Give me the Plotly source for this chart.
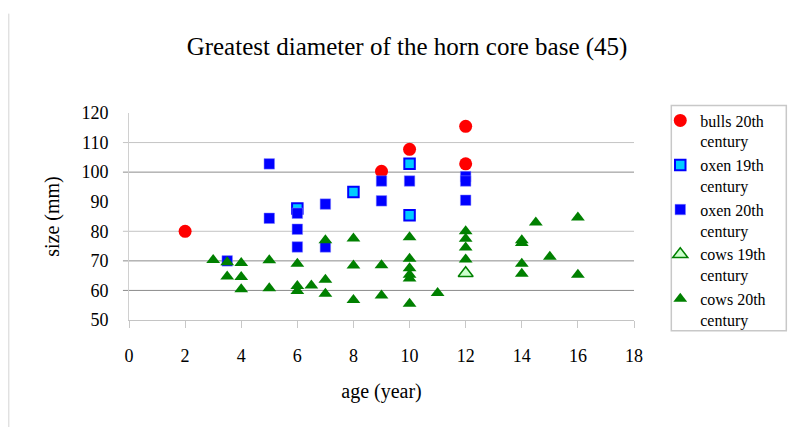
import plotly.graph_objects as go

# ---- data ----
bulls_age = [2, 9, 10, 12, 12]
bulls_size = [80.0, 100.3, 107.7, 115.5, 102.8]

oxen19_age = [6, 8, 10, 10]
oxen19_size = [87.7, 93.3, 102.8, 85.4]

oxen20_age = [3.5, 5, 5, 6, 6, 6, 7, 7, 9, 9, 10, 12, 12, 12]
oxen20_size = [70.0, 102.8, 84.4, 86.1, 80.7, 74.7, 89.2, 74.7, 97.0, 90.3, 97.0, 98.5, 97.0, 90.5]

cows19_age = [12]
cows19_size = [65.8]

cows20_age = [3, 3.5, 3.5, 4, 4, 4, 5, 5, 6, 6, 6, 6.5, 7, 7, 7, 8, 8, 8, 9, 9,
              10, 10, 10, 10, 10, 10, 11, 12, 12, 12, 12, 14, 14, 14, 14, 14.5, 15, 16, 16]
cows20_size = [70.3, 69.5, 64.7, 69.3, 64.5, 60.4, 70.2, 60.7, 69.0, 61.5, 59.8, 61.7,
               77.0, 63.6, 58.9, 77.6, 68.4, 56.8, 68.5, 58.3,
               78.0, 70.7, 67.5, 65.3, 64.0, 55.5, 59.1, 80.0, 77.5, 74.5, 70.5,
               77.0, 76.0, 69.0, 65.6, 83.0, 71.4, 84.7, 65.3]

series_names = ["bulls 20th<br>century", "oxen 19th<br>century", "oxen 20th<br>century",
                "cows 19th<br>century", "cows 20th<br>century"]

grid_levels = [60, 70, 80, 100, 110]
grid_colors = ["#8c8c8c", "#8c8c8c", "#c4c4c4", "#8c8c8c", "#c4c4c4"]

x_ticks = list(range(0, 19, 2))
y_ticks = list(range(50, 121, 10))

FONT = "Liberation Serif, Times New Roman, serif"

fig = go.Figure()

fig.add_trace(go.Scatter(x=bulls_age, y=bulls_size, mode="markers", name=series_names[0],
                         marker=dict(symbol="circle", size=13, color="#FF0000",
                                     line=dict(width=0))))
fig.add_trace(go.Scatter(x=oxen19_age, y=oxen19_size, mode="markers", name=series_names[1],
                         marker=dict(symbol="square", size=10.5, color="#00CCFF",
                                     line=dict(width=2, color="#0000FF"))))
fig.add_trace(go.Scatter(x=oxen20_age, y=oxen20_size, mode="markers", name=series_names[2],
                         marker=dict(symbol="square", size=10.5, color="#0000FF",
                                     line=dict(width=0.5, color="#8080FF"))))
fig.add_trace(go.Scatter(x=cows19_age, y=cows19_size, mode="markers", name=series_names[3],
                         marker=dict(symbol="triangle-up", size=13, color="#CCFFCC",
                                     line=dict(width=1.5, color="#008000"))))
fig.add_trace(go.Scatter(x=cows20_age, y=cows20_size, mode="markers", name=series_names[4],
                         marker=dict(symbol="triangle-up", size=12, color="#008000",
                                     line=dict(width=0))))

shapes = []
for lvl, col in zip(grid_levels, grid_colors):
    shapes.append(dict(type="line", xref="paper", yref="y", x0=-0.012, x1=1,
                       y0=lvl, y1=lvl, line=dict(color=col, width=1), layer="below"))
# legend frame
shapes.append(dict(type="rect", xref="paper", yref="paper", x0=1.0739, x1=1.3016,
                   y0=-0.0515, y1=1.0366, line=dict(color="#c8c8c8", width=1.5)))
# chart-area left border
shapes.append(dict(type="line", xref="paper", yref="paper", x0=-0.238, x1=-0.238,
                   y0=-0.52, y1=1.48, line=dict(color="#d4d4d4", width=1)))

fig.update_layout(
    width=795, height=427,
    margin=dict(l=129, r=161, t=113, b=107),
    paper_bgcolor="white", plot_bgcolor="white",
    font=dict(family=FONT, color="black", size=18),
    title=dict(text="Greatest diameter of the horn core base (45)",
               font=dict(family=FONT, size=25, color="black"),
               x=0.512, xref="container", xanchor="center",
               y=1 - 46.5 / 427, yref="container", yanchor="middle"),
    showlegend=True,
    legend=dict(x=1.052, y=1.046, xanchor="left", yanchor="top",
                font=dict(family=FONT, size=16, color="black"),
                bgcolor="rgba(0,0,0,0)", borderwidth=0, valign="top",
                traceorder="normal", itemclick=False, maxheight=300),
    shapes=shapes,
)

fig.update_xaxes(range=[0, 18], tickvals=x_ticks, ticktext=[str(v) for v in x_ticks],
                 showgrid=False, zeroline=False, showline=True, linecolor="#c4c4c4",
                 linewidth=1, ticks="outside", ticklen=7, tickcolor="#c8c8c8",
                 tickfont=dict(family=FONT, size=18), ticklabelstandoff=12,
                 title=dict(text="age (year)", font=dict(family=FONT, size=20), standoff=19))
fig.update_yaxes(range=[50, 120], tickvals=y_ticks, ticktext=[str(v) for v in y_ticks],
                 showgrid=False, zeroline=False, showline=True, linecolor="#d0d0d0",
                 linewidth=1, ticks="", tickfont=dict(family=FONT, size=18),
                 ticklabelstandoff=16,
                 title=dict(text="size (mm)", font=dict(family=FONT, size=20), standoff=16))

fig.write_html("out.html", config={"displayModeBar": False},
               post_script="document.body.style.margin='0';document.body.style.padding='0';")
